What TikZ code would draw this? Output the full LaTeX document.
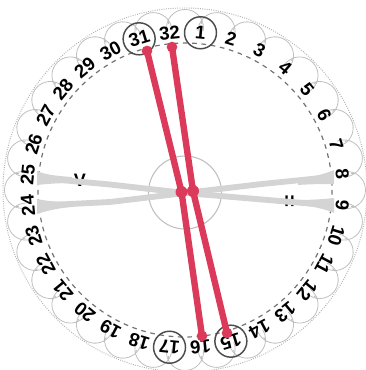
\documentclass[tikz,border=0pt]{standalone}
\usepackage{fontspec}
\setmainfont{Liberation Sans}
\usetikzlibrary{calc}
\definecolor{chordred}{HTML}{DC3A5A}
\definecolor{chordgray}{HTML}{D4D4D4}
\tikzset{
  x=0.75pt,y=-0.75pt,
  numlabel/.style={font=\bfseries\fontsize{14}{14}\selectfont,text=black,inner sep=0pt},
  ring/.style={draw=black!70,line width=1.1pt,circle,minimum size=24pt,inner sep=0pt},
  scallop/.style={draw=black!25,line width=0.6pt},
  redchord/.style={draw=chordred,line width=4.8pt,line cap=round,line join=round},
  graychord/.style={draw=chordgray,line width=4.4pt,line join=round},
  redend/.style={circle,fill=chordred,minimum size=8pt,inner sep=0pt},
  redhub/.style={circle,fill=chordred,minimum size=9pt,inner sep=0pt},
  taper/.style={fill=chordgray,draw=none},
  marklabel/.style={font=\bfseries,text=black,inner sep=0pt}
}
\begin{document}
\begin{tikzpicture}
\useasboundingbox (0,0) rectangle (366,370);
\coordinate (C) at (185,190);
% outer dotted ring
\draw[black!30,line width=0.7pt,densely dotted] (C) circle[radius=182];
% scallops and dividers
\foreach \k in {0,...,31}{
  \pgfmathsetmacro\a{\k*11.25}
  \pgfmathsetmacro\sx{185+162*sin(\a)}
  \pgfmathsetmacro\sy{190-162*cos(\a)}
  \pgfmathsetmacro\ja{\a+5.625}
  \draw[scallop] plot[smooth,domain=-100:100,samples=21,variable=\t] ({\sx+18.5*sin(\a+\t)},{\sy-18.5*cos(\a+\t)});
  \draw[scallop] ({185+167*sin(\ja)},{190-167*cos(\ja)}) -- ({185+172*sin(\ja)},{190-172*cos(\ja)});
}
% inner dashed ring and hub
\draw[black!55,line width=0.9pt,dash pattern=on 3.5pt off 3.5pt] (C) circle[radius=147];
\draw[black!25,line width=0.8pt] (185,192.5) circle[radius=36.5];
% marks, lying under the gray chords
\node[marklabel,font=\bfseries\fontsize{13.5}{14}\selectfont] (mv) at (80,180.5) {V};
\node[marklabel,font=\bfseries\fontsize{16}{16}\selectfont,rotate=90] (mh) at (291,201) {=};
% named end points
\coordinate (g25) at (50,179);
\coordinate (g24) at (50,205);
\coordinate (g8) at (321,178);
\coordinate (g9) at (321,204.5);
\coordinate (gm) at (185,193);
% gray chords
\draw[graychord] (g25) -- (110,184.5) -- (gm) -- (262,199.5) -- (g9);
\draw[graychord] (g24) -- (110,202) -- (gm) -- (262,184) -- (g8);
\fill[taper] (37,171) .. controls (46,175) and (58,176) .. (72,177) -- (72,183) .. controls (58,183) and (46,184) .. (37,185) -- cycle;
\fill[taper] (37,199) .. controls (46,201) and (58,202) .. (72,202) -- (72,207) .. controls (58,208) and (46,211) .. (37,214) -- cycle;
\fill[taper] (334,170) .. controls (325,174) and (312,177) .. (298,179) -- (298,185) .. controls (312,184) and (325,184) .. (334,184) -- cycle;
\fill[taper] (334,198) .. controls (325,199) and (312,200) .. (298,200) -- (298,205) .. controls (312,206) and (325,209) .. (334,213) -- cycle;
% numbers
\foreach \n in {1,...,32}{
  \pgfmathsetmacro\a{(\n-0.5)*11.25}
  \node[numlabel,rotate={-\a}] (n\n) at ({185+158*sin(\a)},{190-158*cos(\a)}) {\n};
}
\foreach \n in {1,15,17,31}{
  \node[ring] (r\n) at (n\n) {};
}
% red chords
\coordinate (a31) at (147,51);
\coordinate (a16) at (202,336);
\coordinate (a32) at (172,47);
\coordinate (a15) at (227,333);
\node[redhub] (h1) at (181.5,192) {};
\node[redhub] (h2) at (193,191) {};
\draw[redchord] (a31) -- (h1.center) -- (a16);
\draw[redchord] (a32) -- (h2.center) -- (a15);
\node[redend] (e31) at (a31) {};
\node[redend] (e32) at (a32) {};
\node[redend] (e16) at (a16) {};
\node[redend] (e15) at (a15) {};
\end{tikzpicture}
\end{document}
